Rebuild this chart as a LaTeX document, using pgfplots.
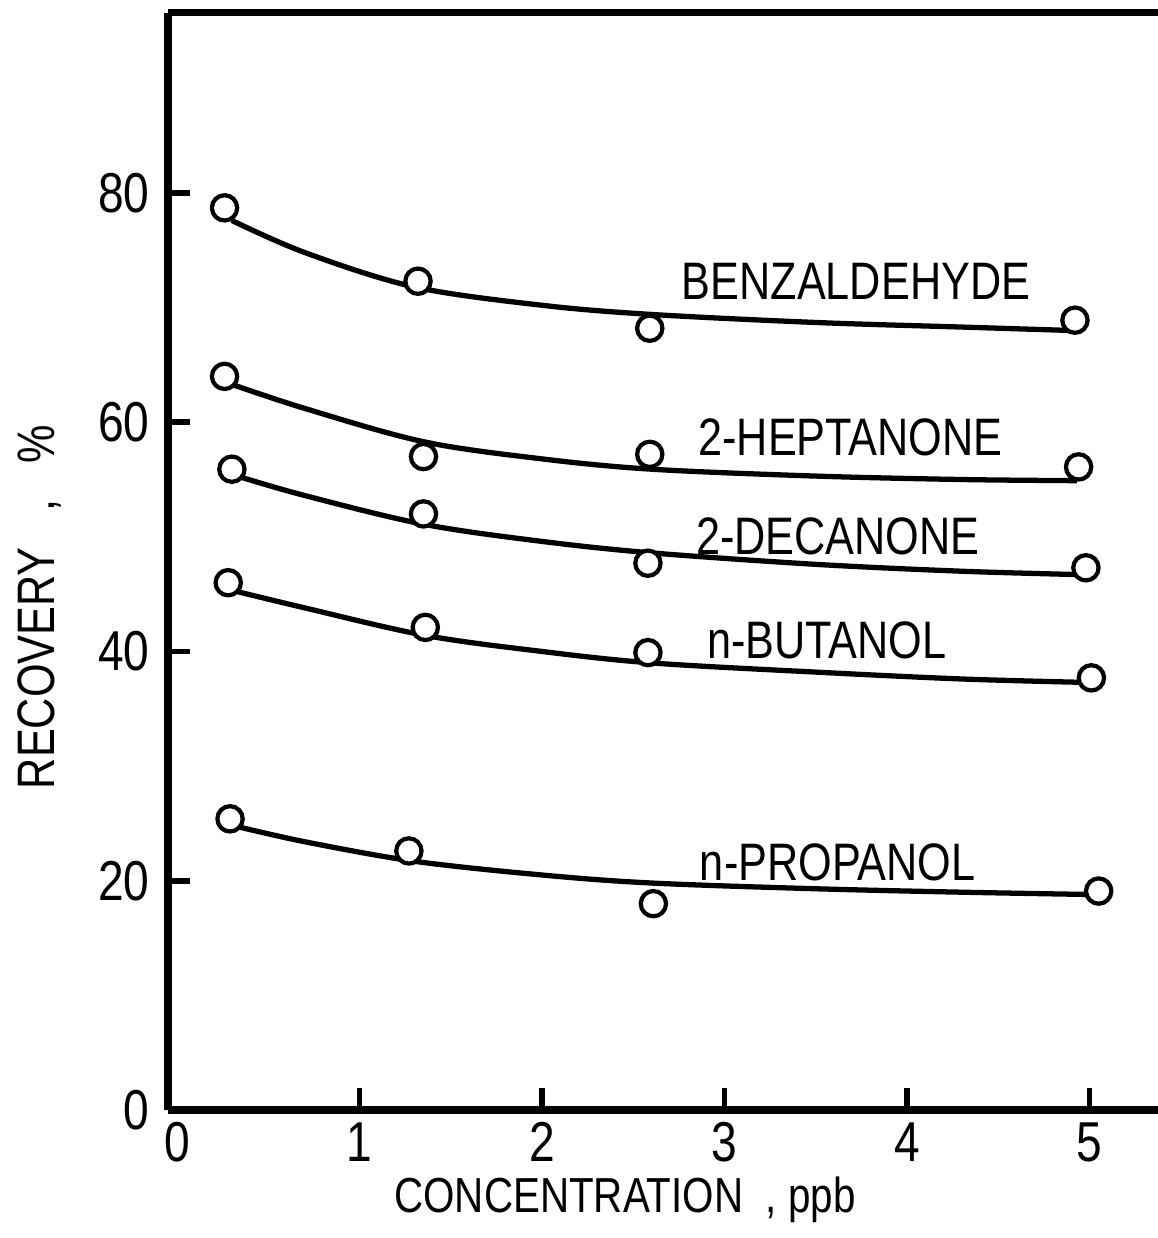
\documentclass[border=0pt]{standalone}
\usepackage{fontspec}
\setmainfont[FakeStretch=0.82]{Liberation Sans}
\usepackage{pgfplots}
\pgfplotsset{compat=1.18}

\begin{document}
\begin{tikzpicture}
\begin{axis}[
  scale only axis, width=9.90cm, height=10.97cm,
  xmin=-0.05, xmax=5.375, ymin=0, ymax=95.7,
  axis x line*=box, axis y line*=left,
  xtick={1,2,3,4,5}, ytick={0,20,40,60,80},
  extra x ticks={0}, extra x tick style={major tick length=0pt},
  xtick pos=left, ytick pos=left,
  tick align=inside, major tick length=0.22cm,
  every tick/.style={black, line width=1.6pt},
  axis line style={line width=2pt},
  /pgf/number format/assume math mode=true,
  tick label style={font=\fontsize{16}{16}\selectfont},
  yticklabel style={xshift=-0.06cm},
  xlabel={CONCENTRATION\ \ ,\ ppb},
  ylabel={RECOVERY\ \ \ ,\ \ \ \%},
  xlabel style={font=\fontsize{14}{14}\selectfont, at={(axis description cs:0.4616,-0.082)}, anchor=center},
  ylabel style={font=\fontsize{15}{15}\selectfont, at={(axis description cs:-0.13,0.4585)}, anchor=center},
  clip=false,
]
% fitted curves
\addplot[line width=1.5pt, smooth, tension=0.55] coordinates {
 (0.30,77.6) (0.70,74.8) (1.30,71.8) (2.00,70.2) (2.60,69.4) (3.50,68.7) (4.30,68.3) (4.90,68.0)};
\addplot[line width=1.5pt, smooth, tension=0.55] coordinates {
 (0.30,63.3) (0.70,61.2) (1.35,58.3) (2.00,56.8) (2.60,55.9) (3.50,55.3) (4.30,55.0) (4.93,54.9)};
\addplot[line width=1.5pt, smooth, tension=0.55] coordinates {
 (0.33,55.3) (0.70,53.6) (1.35,51.1) (2.00,49.6) (2.60,48.6) (3.50,47.6) (4.30,47.0) (4.96,46.7)};
\addplot[line width=1.5pt, smooth, tension=0.55] coordinates {
 (0.31,45.3) (0.70,43.8) (1.36,41.4) (2.00,40.0) (2.60,39.0) (3.50,38.2) (4.30,37.6) (4.98,37.3)};
\addplot[line width=1.5pt, smooth, tension=0.55] coordinates {
 (0.31,24.8) (0.70,23.4) (1.30,21.7) (2.00,20.5) (2.60,19.8) (3.50,19.3) (4.30,19.0) (5.00,18.8)};
% measured points
\addplot[only marks, mark=*, mark size=3.6pt, mark options={fill=white, draw=black, line width=1.2pt}] coordinates {
 (0.26,78.7) (1.32,72.3) (2.59,68.2) (4.92,68.9)};
\addplot[only marks, mark=*, mark size=3.6pt, mark options={fill=white, draw=black, line width=1.2pt}] coordinates {
 (0.26,64.0) (1.35,57.0) (2.59,57.2) (4.94,56.1)};
\addplot[only marks, mark=*, mark size=3.6pt, mark options={fill=white, draw=black, line width=1.2pt}] coordinates {
 (0.30,55.9) (1.35,52.0) (2.58,47.7) (4.98,47.3)};
\addplot[only marks, mark=*, mark size=3.6pt, mark options={fill=white, draw=black, line width=1.2pt}] coordinates {
 (0.28,46.0) (1.36,42.1) (2.58,39.9) (5.01,37.7)};
\addplot[only marks, mark=*, mark size=3.6pt, mark options={fill=white, draw=black, line width=1.2pt}] coordinates {
 (0.29,25.4) (1.27,22.6) (2.61,18.0) (5.05,19.1)};
% series names
\node[font=\fontsize{15}{15}\selectfont] at (axis cs:3.72,72.3) {BENZALDEHYDE};
\node[font=\fontsize{15}{15}\selectfont] at (axis cs:3.69,58.7) {2-HEPTANONE};
\node[font=\fontsize{15}{15}\selectfont] at (axis cs:3.62,50.0) {2-DECANONE};
\node[font=\fontsize{15}{15}\selectfont] at (axis cs:3.56,41.0) {n-BUTANOL};
\node[font=\fontsize{15}{15}\selectfont] at (axis cs:3.62,21.6) {n-PROPANOL};
\end{axis}
\pgfresetboundingbox
\path ([shift={(-1.68cm,-1.28cm)}]current axis.south west) rectangle ([shift={(0cm,0.13cm)}]current axis.north east);
\end{tikzpicture}
\end{document}
